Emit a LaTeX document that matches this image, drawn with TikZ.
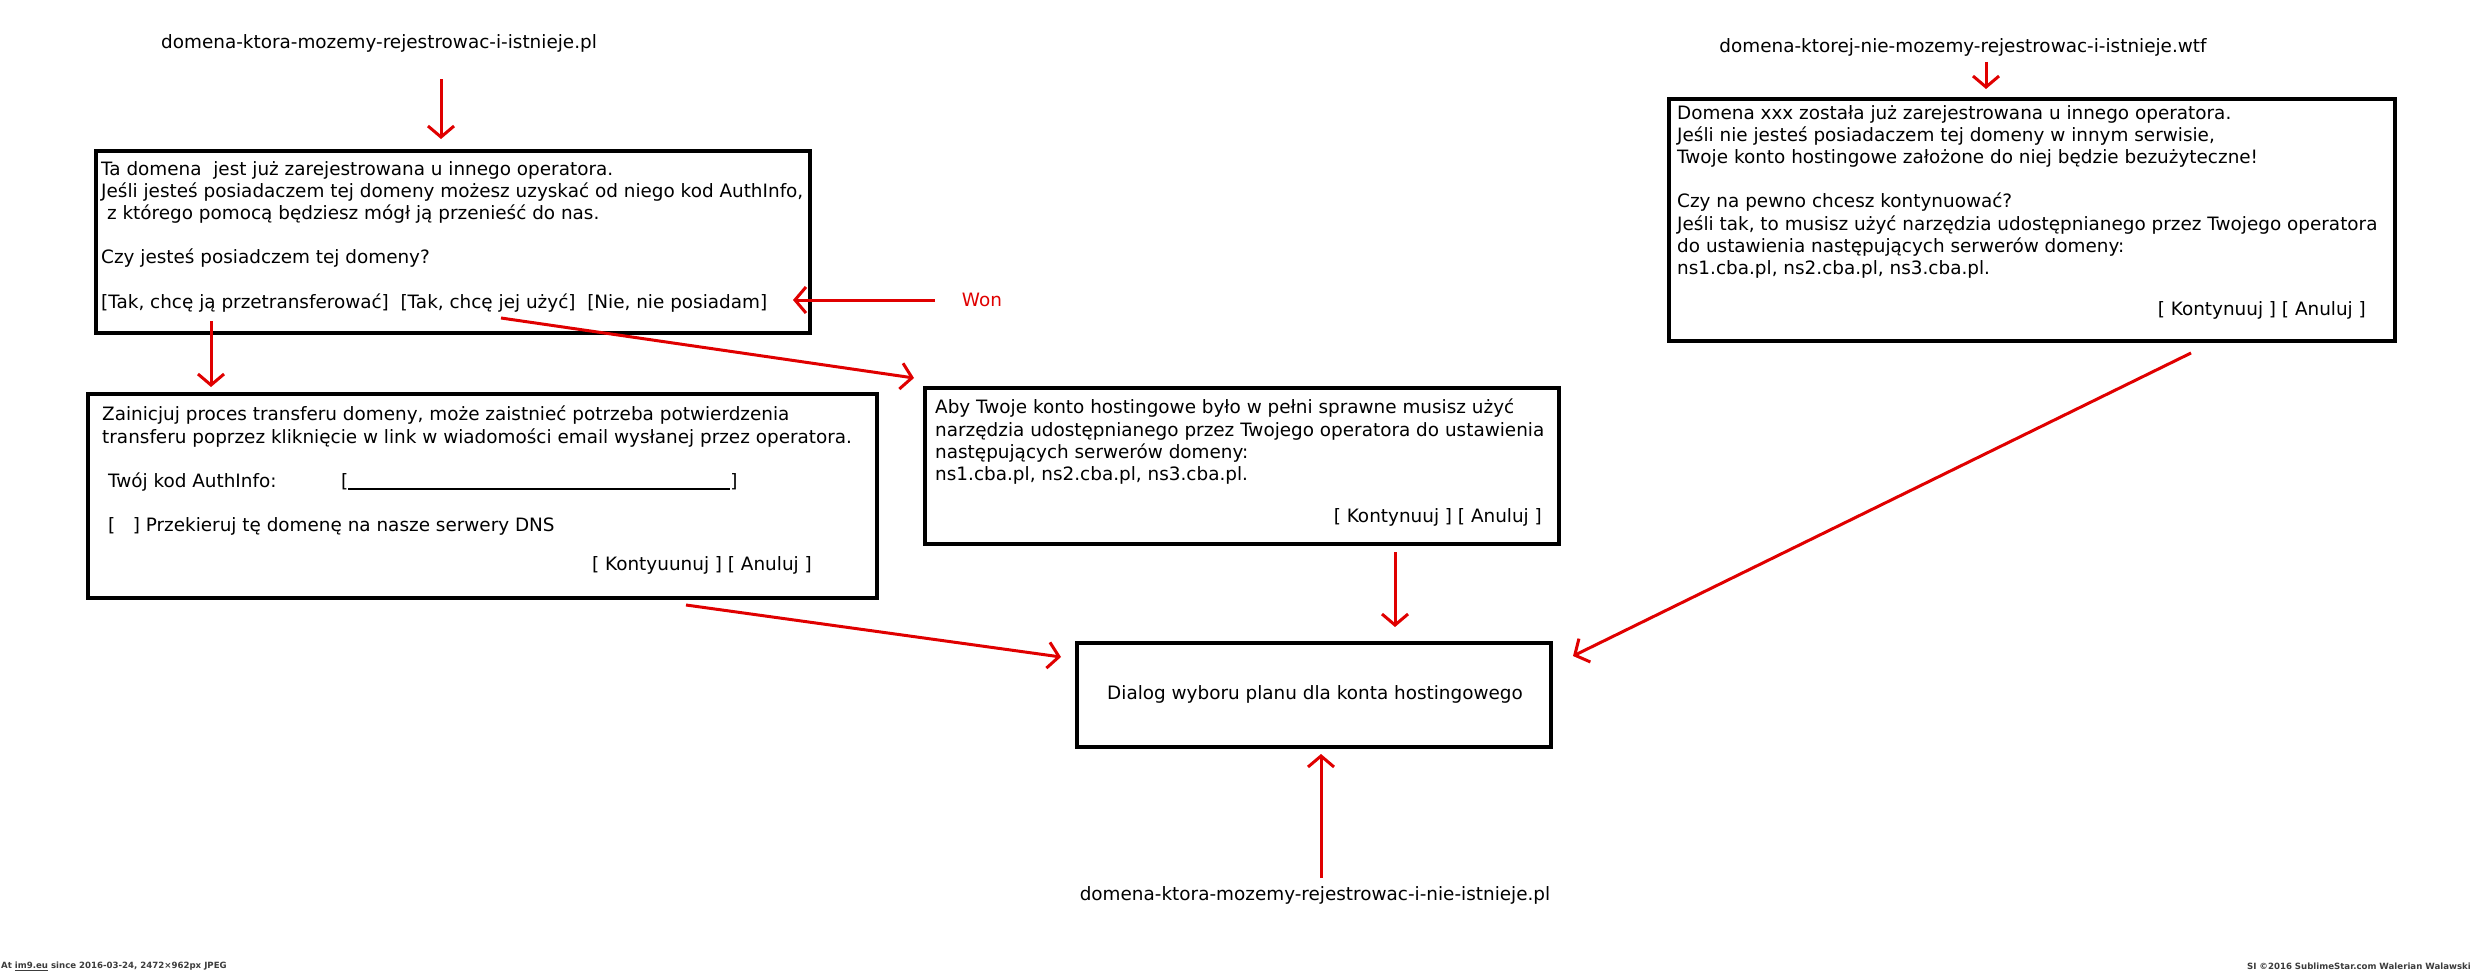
\documentclass[tikz,border=0pt]{standalone}
\usepackage{fontspec}
\setmainfont{DejaVu Sans}
\usetikzlibrary{arrows.meta,calc}
\definecolor{arrred}{RGB}{224,0,0}
\definecolor{footgray}{RGB}{60,60,60}
\newcommand\dlgfont{\fontsize{18.4pt}{22.2pt}\selectfont}
\newcommand\footfont{\fontsize{8.6pt}{10pt}\selectfont\bfseries}
\begin{document}
\begin{tikzpicture}[x=1pt,y=-1pt,
  dlgbox/.style={draw=black, line width=3.5pt, inner sep=0pt},
  dlgtext/.style={font=\dlgfont, align=left, inner sep=0pt, anchor=north west},
  btntext/.style={font=\dlgfont, inner sep=0pt, anchor=east},
  lbltext/.style={font=\dlgfont, inner sep=0pt},
  arr/.style={draw=arrred, line width=3pt, -{Straight Barb[length=11pt,width=26pt,line width=3pt]}},
  foot/.style={font=\footfont, text=footgray, inner sep=0pt}]
\useasboundingbox[fill=white] (0,0) rectangle (2472,974);

% boxes
\node[dlgbox, minimum width=714pt, minimum height=182pt] (b1) at (453,242) {};
\node[dlgbox, minimum width=789pt, minimum height=204pt] (b2) at (482.5,496) {};
\node[dlgbox, minimum width=634pt, minimum height=156pt] (b3) at (1242,466) {};
\node[dlgbox, minimum width=726pt, minimum height=242pt] (b4) at (2032,220) {};
\node[dlgbox, minimum width=474pt, minimum height=104pt] (b5) at (1314,695) {};

% box texts
\node[dlgtext] (t1) at (101,161) {Ta domena\ \ jest już zarejestrowana u innego operatora.\\
Jeśli jesteś posiadaczem tej domeny możesz uzyskać od niego kod AuthInfo,\\
\ z którego pomocą będziesz mógł ją przenieść do nas.\\[22.2pt]
Czy jesteś posiadczem tej domeny?\\[22.2pt]
[Tak, chcę ją przetransferować]\ \ [Tak, chcę jej użyć]\ \ [Nie, nie posiadam]};

\node[dlgtext] (t2) at (102,406) {Zainicjuj proces transferu domeny, może zaistnieć potrzeba potwierdzenia\\
transferu poprzez kliknięcie w link w wiadomości email wysłanej przez operatora.\\[22.2pt]
\makebox[239pt][l]{\ Twój kod AuthInfo:}[\rule[-2pt]{382pt}{1.8pt}]\\[22.2pt]
\ [\ \ \ ] Przekieruj tę domenę na nasze serwery DNS};
\node[btntext] (k2) at (812,565) {[ Kontyuunuj ] [ Anuluj ]};

\node[dlgtext] (t3) at (935,399) {Aby Twoje konto hostingowe było w pełni sprawne musisz użyć\\
narzędzia udostępnianego przez Twojego operatora do ustawienia\\
następujących serwerów domeny:\\
ns1.cba.pl, ns2.cba.pl, ns3.cba.pl.};
\node[btntext] (k3) at (1542,517) {[ Kontynuuj ] [ Anuluj ]};

\node[dlgtext] (t4) at (1677,105) {Domena xxx została już zarejestrowana u innego operatora.\\
Jeśli nie jesteś posiadaczem tej domeny w innym serwisie,\\
Twoje konto hostingowe założone do niej będzie bezużyteczne!\\[22.2pt]
Czy na pewno chcesz kontynuować?\\
Jeśli tak, to musisz użyć narzędzia udostępnianego przez Twojego operatora\\
do ustawienia następujących serwerów domeny:\\
ns1.cba.pl, ns2.cba.pl, ns3.cba.pl.};
\node[btntext] (k4) at (2366,310) {[ Kontynuuj ] [ Anuluj ]};

\node[lbltext] (t5) at (1315,694) {Dialog wyboru planu dla konta hostingowego};

% labels
\node[lbltext] (l1) at (379,43) {domena-ktora-mozemy-rejestrowac-i-istnieje.pl};
\node[lbltext] (l4) at (1963,47) {domena-ktorej-nie-mozemy-rejestrowac-i-istnieje.wtf};
\node[lbltext] (l5) at (1315,895) {domena-ktora-mozemy-rejestrowac-i-nie-istnieje.pl};
\node[lbltext, text=arrred] (won) at (982,300) {Won};

% connector end points
\coordinate (a1s) at (441,79);   \coordinate (a1e) at (441,139);
\coordinate (a4s) at (1986,62);  \coordinate (a4e) at (1986,89);
\coordinate (aws) at (935,300);  \coordinate (awe) at (793,300);
\coordinate (a12s) at (211,321); \coordinate (a12e) at (211,387);
\coordinate (a13s) at (501,318); \coordinate (a13e) at (914,378);
\coordinate (a25s) at (686,605); \coordinate (a25e) at (1061,657);
\coordinate (a35s) at (1395,552);\coordinate (a35e) at (1395,627);
\coordinate (a45s) at (2191,353);\coordinate (a45e) at (1573,656);
\coordinate (a55s) at (1321,878);\coordinate (a55e) at (1321,754);

% connectors
\draw[arr] (a1s) -- (a1e);
\draw[arr] (a4s) -- (a4e);
\draw[arr] (aws) -- (awe);
\draw[arr] (a12s) -- (a12e);
\draw[arr] (a13s) -- (a13e);
\draw[arr] (a25s) -- (a25e);
\draw[arr] (a35s) -- (a35e);
\draw[arr] (a45s) -- (a45e);
\draw[arr] (a55s) -- (a55e);

% footer
\node[foot, anchor=west] (fl) at (1,966) {At \underline{im9.eu} since 2016-03-24, 2472×962px JPEG};
\node[foot, anchor=east] (fr) at (2471,966) {SI ©2016 SublimeStar.com Walerian Walawski};
\end{tikzpicture}
\end{document}
